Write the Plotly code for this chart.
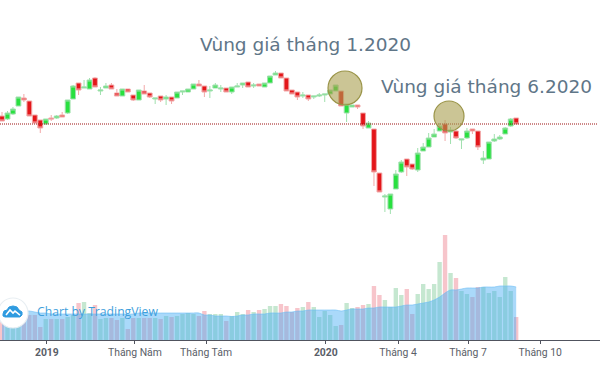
import plotly.graph_objects as go

W, H = 600, 386

price_open = [184,181,186,194,202,199,185,180,176,182,182,185,187,201,217,212,211,222,209,212,215,207,204,211,205,200,209,207,201,204,201,203,202,208,208,211,216,214,209,212,211,212,208,213,215,218,214,216,213,217,225,227,222,210,208,204,205,203,204,205,206,209,209,187,193,195,187,172,171,127,103,91,111,128,141,136,130,149,153,163,169,176,168,169,160,162,171,169,140,141,159,161,166,174,182]
price_high = [188,189,193,203,206,199,185,180,181,185,185,188,200,215,217,220,222,223,213,217,217,211,211,211,205,210,215,207,202,204,205,203,208,209,211,216,220,214,214,217,215,212,213,217,217,218,217,216,217,224,229,227,222,210,208,208,205,204,207,206,210,215,209,196,195,195,187,179,171,127,106,106,130,140,141,136,152,157,167,171,177,180,173,170,161,172,171,169,149,158,166,165,173,182,182]
price_low = [179,180,185,194,198,184,177,167,175,179,181,183,186,201,205,212,211,213,205,212,211,204,204,208,199,200,206,202,196,198,195,196,202,205,208,211,214,203,202,212,208,208,206,213,212,213,212,214,213,217,225,222,209,206,200,202,199,201,203,198,206,209,194,178,193,191,171,172,114,108,88,86,111,127,124,130,128,149,153,163,169,159,156,161,151,161,166,150,136,141,158,160,166,173,176]
price_close = [179,187,191,203,200,184,177,172,181,181,184,183,200,214,210,213,220,213,210,214,211,204,211,208,200,210,206,203,202,200,203,199,208,209,211,216,214,208,210,215,212,208,213,214,217,213,215,214,217,224,227,222,209,206,203,205,201,204,205,206,210,215,194,196,195,193,174,177,128,108,104,106,126,138,133,131,147,153,162,166,174,167,170,162,161,169,169,153,142,158,161,163,172,181,176]
volume = [20,20,20,22,28,25,25,13,21,21,21,21,23,25,37,38,27,35,21,22,22,20,22,11,22,22,22,22,22,21,24,23,24,26,27,26,24,29,26,26,26,19,24,28,26,30,28,30,31,34,34,36,34,28,32,33,38,33,23,29,25,14,15,37,32,33,35,36,54,45,40,33,52,45,51,26,46,56,51,56,78,105,67,62,49,46,43,53,53,47,49,43,63,49,23]
volume_ma = [29,29,29,29,29,29,28,27,27,26,26,26,26,26,26,26,26,26,26,26,26,26,26,26,26,27,27,27,27,27,27,27,27,27,27,27,27,25,25,24,24,24,23.5,24,25,25,26,26,26,27,27,27,28,28,29,29,30,30,30,30,30,30,29,30,31,31,31,32,32,33,33,33,33,34,35,35,36,37,38,40,43,47,50,50,51,52,52,52,53,53,53,54,54,54,53]
tick_vals = [8.2,24.3,37.3,59.2,72.4,85.2,98.4]
tick_text = ["<b>2019</b>","Tháng Năm","Tháng Tám","<b>2020</b>","Tháng 4","Tháng 7","Tháng 10"]
support_level = 176
note_1 = "Vùng giá tháng 1.2020"
note_2 = "Vùng giá tháng 6.2020"
brand = "Chart by TradingView"

index = list(range(len(price_open)))
bar_colors = ["rgba(150,212,170,0.55)" if c >= o else "rgba(240,150,160,0.55)"
              for o, c in zip(price_open, price_close)]

def px(x):
    return x / W

def py(y):
    return 1 - y / H

def path(points):
    return "M" + " L".join(f"{px(a):.4f},{py(b):.4f}" for a, b in points)

def circle(cx, cy, r, fill, line):
    return dict(type="circle", xref="paper", yref="paper",
                x0=px(cx - r), x1=px(cx + r), y0=py(cy + r), y1=py(cy - r),
                fillcolor=fill, line=dict(color=line, width=1.2), layer="above")

fig = go.Figure()
fig.add_trace(go.Bar(x=index, y=volume, yaxis="y2", width=0.8,
                     marker=dict(color=bar_colors, line=dict(width=0)), hoverinfo="skip"))
fig.add_trace(go.Scatter(x=index, y=volume_ma, yaxis="y2", mode="lines",
                         line=dict(color="rgba(110,190,245,0.6)", width=1, shape="spline"),
                         fill="tozeroy", fillcolor="rgba(66,170,245,0.45)", hoverinfo="skip"))
fig.add_trace(go.Candlestick(
    x=index, open=price_open, high=price_high, low=price_low, close=price_close,
    increasing=dict(fillcolor="#28e03f", line=dict(color="#a0e0ae", width=1)),
    decreasing=dict(fillcolor="#e3161a", line=dict(color="#f2a8a8", width=1)),
    whiskerwidth=0, hoverinfo="skip"))

cloud = [(3,314),(4,311),(7,310),(9,307),(13,306),(17,307),(19,310),(22,312),(22,315),(20,317),(5,317),(3,316)]
zigzag = [(6,315),(10,310),(13,313),(15,311),(20,315)]
shapes = [
    dict(type="line", xref="paper", yref="y", x0=0, x1=px(598), y0=support_level, y1=support_level,
         line=dict(color="#9c1010", width=1, dash="1px,1px"), layer="above"),
    circle(345, 88, 17, "rgba(168,158,78,0.6)", "#9a9448"),
    circle(449, 116, 15, "rgba(168,158,78,0.6)", "#9a9448"),
    circle(13, 313, 15, "#ffffff", "#e8eef2"),
    dict(type="path", xref="paper", yref="paper", path=path(cloud) + " Z",
         fillcolor="#2f9be0", line=dict(color="#2f9be0", width=1), layer="above"),
    dict(type="path", xref="paper", yref="paper", path=path(zigzag),
         line=dict(color="#ffffff", width=1.6), layer="above"),
]

def note(text, x, y, size, color, font):
    return dict(text=text, xref="paper", yref="paper", x=px(x), y=py(y), xanchor="left",
                yanchor="middle", showarrow=False, font=dict(size=size, color=color, family=font))

annotations = [
    note(note_1, 198, 45, 18.5, "#5f7688", "DejaVu Sans"),
    note(note_2, 379, 86, 18.5, "#5f7688", "DejaVu Sans"),
    note(brand, 35, 311, 12.2, "#3f9fdc", "Open Sans"),
]

fig.update_layout(
    width=W, height=H, margin=dict(l=0, r=0, t=0, b=0),
    paper_bgcolor="white", plot_bgcolor="white", showlegend=False,
    boxgap=0.12, boxgroupgap=0, barmode="overlay", shapes=shapes, annotations=annotations,
    xaxis=dict(range=[-2/5.47, 598/5.47], domain=[0, 1], anchor="y2", rangeslider=dict(visible=False),
               tickmode="array", tickvals=tick_vals, ticktext=tick_text, ticks="outside",
               ticklen=3, tickcolor="#50535e", tickfont=dict(size=10.4, color="#5a5e68", family="Roboto"),
               showgrid=False, zeroline=False, showline=True, linecolor="#50535e", linewidth=1),
    yaxis=dict(domain=[46/H, 1], range=[-40, 300], visible=False, fixedrange=True),
    yaxis2=dict(domain=[46/H, 1], range=[0, 340], overlaying="y", visible=False, fixedrange=True),
)

fig.write_html("out.html", config=dict(displayModeBar=False),
               post_script="document.body.style.margin='0';document.body.style.overflow='hidden';")
